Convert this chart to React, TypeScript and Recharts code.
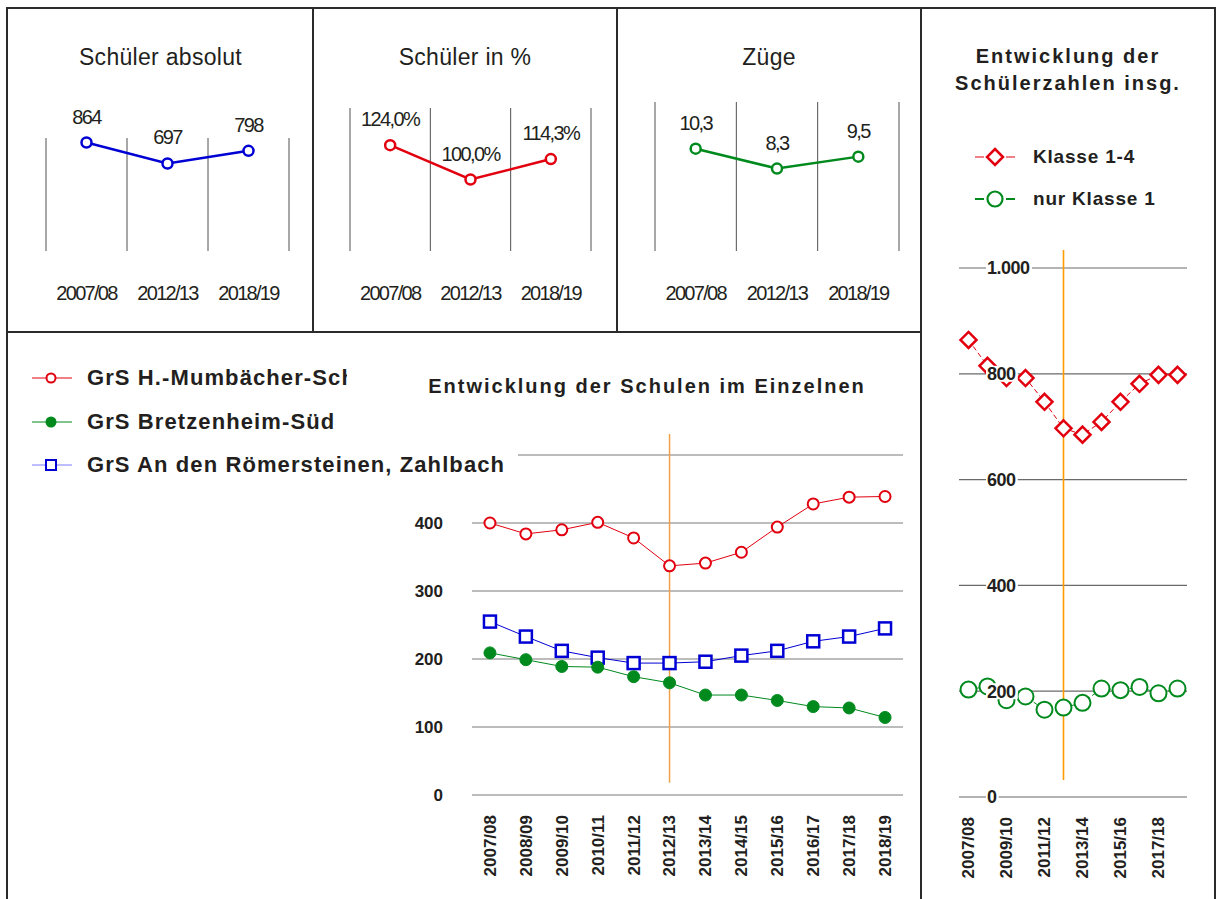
import { LineChart, Line, XAxis, YAxis, CartesianGrid, LabelList, ReferenceLine } from 'recharts';

const FONT = '"Liberation Sans", Arial, Helvetica, sans-serif';
const INK = '#231f20';
const RED = '#e2000f';
const GREEN = '#008a1e';
const BLUE = '#0000d4';
const ORANGE = '#ff9a00';

// overview panels (top row)
const overviewYears = ['2007/08', '2012/13', '2018/19'];
const pupilsAbs = [864, 697, 798];
const pupilsPct = [124.0, 100.0, 114.3];
const streams = [10.3, 8.3, 9.5];

// per-school development
const years = [
  '2007/08', '2008/09', '2009/10', '2010/11', '2011/12', '2012/13',
  '2013/14', '2014/15', '2015/16', '2016/17', '2017/18', '2018/19',
];
const schoolNames = ['GrS H.-Mumbächer-Schule', 'GrS Bretzenheim-Süd', 'GrS An den Römersteinen, Zahlbach'];
const mumbaecher = [400, 384, 390, 401, 378, 337, 341, 357, 394, 428, 438, 439];
const bretzenheim = [209, 199, 189, 188, 174, 165, 147, 147, 139, 130, 128, 114];
const roemersteine = [255, 233, 212, 202, 194, 194, 196, 205, 212, 226, 233, 245];
const schoolTicks = [0, 100, 200, 300, 400, 500];

// total development
const totalNames = ['Klasse 1-4', 'nur Klasse 1'];
const klasse14 = [864, 815, 792, 792, 747, 697, 685, 709, 747, 781, 798, 798];
const klasse1 = [203, 209, 183, 190, 165, 169, 178, 205, 202, 208, 196, 205];
const totalTicks = [0, 200, 400, 600, 800, 1000];

const refYear = '2012/13';

const de1 = (v: number) => v.toFixed(1).replace('.', ',');
const deInt = (v: number) =>
  v >= 1000 ? `${Math.floor(v / 1000)}.${String(v % 1000).padStart(3, '0')}` : String(v);

const schoolRows = years.map((year, i) => ({
  year,
  a: mumbaecher[i],
  b: bretzenheim[i],
  c: roemersteine[i],
}));
const totalRows = years.map((year, i) => ({ year, all: klasse14[i], first: klasse1[i] }));

function Rule({ x, y, w, h }: { x: number; y: number; w: number; h: number }) {
  return <div style={{ position: 'absolute', left: x, top: y, width: w, height: h, background: '#2b2b2b' }} />;
}

function MiniTick({ x, y, payload }: any) {
  return (
    <text x={x} y={y + 42} dy="0.35em" textAnchor="middle" fontSize={20} letterSpacing={-1.7} fill={INK} fontFamily={FONT}>
      {payload.value}
    </text>
  );
}

function MiniPanel({ left, width, margin, values, color, domain, fmt, title }: any) {
  const data = overviewYears.map((year, i) => ({ year, v: values[i] }));
  const plotW = width - margin.left - margin.right;
  return (
    <>
      <div style={{ position: 'absolute', left, top: 43, width, textAlign: 'center', fontSize: 23, letterSpacing: 0.3, lineHeight: '28px', color: INK }}>
        {title}
      </div>
      <div style={{ position: 'absolute', left, top: 90 }}>
        <LineChart width={width} height={230} data={data} margin={margin}>
          <CartesianGrid
            horizontal={false}
            stroke="#505050"
            verticalCoordinatesGenerator={() => [0, 1, 2, 3].map((i) => margin.left + (i * plotW) / 3)}
          />
          <XAxis dataKey="year" scale="band" height={69} axisLine={false} tickLine={false} tickSize={0} tickMargin={0} interval={0} tick={<MiniTick />} />
          <YAxis hide domain={domain} />
          <Line dataKey="v" stroke={color} strokeWidth={2.5} dot={{ r: 5, fill: '#fff', stroke: color, strokeWidth: 2.5 }} isAnimationActive={false}>
            <LabelList dataKey="v" position="top" offset={19} formatter={fmt} fill={INK} fontSize={20} letterSpacing={-1.6} fontFamily={FONT} />
          </Line>
        </LineChart>
      </div>
    </>
  );
}

function RotTick({ x, y, payload }: any) {
  return (
    <g transform={`translate(${x},${y + 20}) rotate(-90)`}>
      <text x={0} y={0} dy="0.35em" textAnchor="end" fontSize={17} fontWeight="bold" fill={INK} fontFamily={FONT}>
        {payload.value}
      </text>
    </g>
  );
}

function SchoolYTick({ x, y, payload }: any) {
  if (payload.value === 500) return null;
  return (
    <text x={x} y={y} dy="0.35em" textAnchor="end" fontSize={17} fontWeight="bold" fill={INK} fontFamily={FONT}>
      {payload.value}
    </text>
  );
}

function TotalYTick({ x, y, payload }: any) {
  const label = deInt(payload.value);
  const w = label.split('').reduce((s, c) => s + (c === '.' ? 4.6 : 9.6), 0);
  return (
    <g>
      <rect x={x + 27} y={y - 8} width={w + 3} height={16} fill="#fff" />
      <text x={x + 28} y={y} dy="0.35em" textAnchor="start" fontSize={18} letterSpacing={-0.5} fontWeight="bold" fill={INK} fontFamily={FONT}>
        {label}
      </text>
    </g>
  );
}

function SquareDot({ cx, cy }: any) {
  return <rect x={cx - 6} y={cy - 6} width={12} height={12} fill="#fff" stroke={BLUE} strokeWidth={2.5} />;
}

function DiamondDot({ cx, cy }: any) {
  return (
    <polygon
      points={`${cx},${cy - 8} ${cx + 8},${cy} ${cx},${cy + 8} ${cx - 8},${cy}`}
      fill="#fff"
      stroke={RED}
      strokeWidth={2.5}
    />
  );
}

function RingDot({ cx, cy }: any) {
  return <circle cx={cx} cy={cy} r={8} fill="#fff" stroke={GREEN} strokeWidth={2} />;
}

function LegendRow({ top, width, marker, label, clip }: any) {
  return (
    <div style={{ position: 'absolute', left: 30, top: top - 13, width, height: 26, background: '#fff', display: 'flex', alignItems: 'center' }}>
      <svg width={44} height={26}>{marker}</svg>
      <span
        style={{
          marginLeft: 13,
          fontSize: 22,
          fontWeight: 'bold',
          letterSpacing: 1.1,
          color: INK,
          whiteSpace: 'nowrap',
          overflow: 'hidden',
          width: clip,
          display: 'inline-block',
        }}
      >
        {label}
      </span>
    </div>
  );
}

export default function App() {
  return (
    <div style={{ position: 'absolute', left: 0, top: 0, width: 1216, height: 899, overflow: 'hidden', background: '#fff', fontFamily: FONT }}>
      {/* frames */}
      <Rule x={6} y={7} w={1210} h={2} />
      <Rule x={6} y={7} w={2} h={892} />
      <Rule x={312} y={7} w={2} h={326} />
      <Rule x={616} y={7} w={2} h={326} />
      <Rule x={920} y={7} w={2} h={892} />
      <Rule x={1214} y={7} w={2} h={892} />
      <Rule x={6} y={331} w={916} h={2} />

      <MiniPanel left={8} width={305} margin={{ top: 48, right: 24, bottom: 0, left: 38 }} values={pupilsAbs} color={BLUE} domain={[0, 900]} fmt={(v: number) => String(v)} title="Schüler absolut" />
      <MiniPanel left={313} width={304} margin={{ top: 18, right: 26, bottom: 0, left: 37 }} values={pupilsPct} color={RED} domain={[50, 150]} fmt={(v: number) => `${de1(v)}%`} title="Schüler in %" />
      <MiniPanel left={617} width={304} margin={{ top: 12, right: 22, bottom: 0, left: 38 }} values={streams} color={GREEN} domain={[0, 15]} fmt={(v: number) => de1(v)} title="Züge" />

      {/* schools in detail */}
      <div style={{ position: 'absolute', left: 400, top: 420 }}>
        <LineChart width={515} height={479} data={schoolRows} margin={{ top: 35, right: 12, bottom: 0, left: 0 }}>
          <CartesianGrid vertical={false} stroke="#7a7a7a" strokeWidth={1.2} />
          <XAxis dataKey="year" scale="band" axisLine={false} tickLine={false} tickSize={0} tickMargin={0} interval={0} height={104} tick={<RotTick />} />
          <YAxis domain={[0, 500]} ticks={schoolTicks} width={72} axisLine={false} tickLine={false} tickSize={0} tickMargin={29} tick={<SchoolYTick />} />
          <ReferenceLine segment={[{ x: refYear, y: 18 }, { x: refYear, y: 531 }]} stroke="#f3a04a" strokeWidth={1.5} strokeOpacity={1} ifOverflow="visible" />
          <Line dataKey="a" name={schoolNames[0]} stroke={RED} strokeWidth={1} dot={{ r: 5.5, fill: '#fff', stroke: RED, strokeWidth: 2 }} isAnimationActive={false} />
          <Line dataKey="c" name={schoolNames[2]} stroke={BLUE} strokeWidth={1} dot={<SquareDot />} isAnimationActive={false} />
          <Line dataKey="b" name={schoolNames[1]} stroke={GREEN} strokeWidth={1} dot={{ r: 6, fill: GREEN, stroke: GREEN, strokeWidth: 1 }} isAnimationActive={false} />
        </LineChart>
      </div>

      <div style={{ position: 'absolute', left: 400, top: 374, width: 494, textAlign: 'center', fontSize: 20, fontWeight: 'bold', letterSpacing: 2, color: INK, lineHeight: '24px' }}>
        Entwicklung der Schulen im Einzelnen
      </div>

      <LegendRow
        top={378}
        width={318}
        clip={260}
        label={schoolNames[0]}
        marker={
          <>
            <line x1={2} x2={42} y1={13} y2={13} stroke={RED} strokeWidth={1} />
            <circle cx={21} cy={13} r={4.5} fill="#fff" stroke={RED} strokeWidth={2} />
          </>
        }
      />
      <LegendRow
        top={422}
        width={420}
        label={schoolNames[1]}
        marker={
          <>
            <line x1={2} x2={42} y1={13} y2={13} stroke={GREEN} strokeWidth={1} />
            <circle cx={21} cy={13} r={5.5} fill={GREEN} />
          </>
        }
      />
      <LegendRow
        top={465}
        width={488}
        label={schoolNames[2]}
        marker={
          <>
            <line x1={2} x2={42} y1={13} y2={13} stroke="#7a7aff" strokeWidth={1} />
            <rect x={16} y={8} width={10} height={10} fill="#fff" stroke={BLUE} strokeWidth={2} />
          </>
        }
      />

      {/* total development */}
      <div style={{ position: 'absolute', left: 922, top: 43, width: 292, textAlign: 'center', fontSize: 20, fontWeight: 'bold', letterSpacing: 2, lineHeight: '27px', color: INK }}>
        Entwicklung der
        <br />
        Schülerzahlen insg.
      </div>
      {[0, 1].map((i) => (
        <div key={i} style={{ position: 'absolute', left: 972, top: (i === 0 ? 157 : 199) - 13, height: 26, display: 'flex', alignItems: 'center' }}>
          <svg width={46} height={26}>
            <line x1={3} x2={43} y1={13} y2={13} stroke={i === 0 ? RED : GREEN} strokeWidth={i === 0 ? 1 : 2} strokeDasharray="9 22" />
            {i === 0 ? (
              <polygon points="23,5 31,13 23,21 15,13" fill="#fff" stroke={RED} strokeWidth={2.5} />
            ) : (
              <circle cx={23} cy={13} r={7.5} fill="#fff" stroke={GREEN} strokeWidth={2.2} />
            )}
          </svg>
          <span style={{ marginLeft: 15, fontSize: 19, fontWeight: 'bold', letterSpacing: 0.8, color: INK }}>{totalNames[i]}</span>
        </div>
      ))}

      <div style={{ position: 'absolute', left: 925, top: 240 }}>
        <LineChart width={288} height={655} data={totalRows} margin={{ top: 28, right: 26, bottom: 0, left: 33 }}>
          <CartesianGrid vertical={false} stroke="#6a6a6a" strokeWidth={1.2} />
          <XAxis dataKey="year" scale="band" axisLine={false} tickLine={false} tickSize={0} tickMargin={0} interval={1} height={98} tick={<RotTick />} />
          <YAxis domain={[0, 1000]} ticks={totalTicks} width={1} axisLine={false} tickLine={false} tickSize={0} tickMargin={0} tick={<TotalYTick />} interval={0} />
          <ReferenceLine segment={[{ x: refYear, y: 32 }, { x: refYear, y: 1034 }]} stroke={ORANGE} strokeWidth={1.6} strokeOpacity={1} ifOverflow="visible" />
          <Line dataKey="all" name={totalNames[0]} stroke={RED} strokeWidth={1} strokeDasharray="5 3" dot={<DiamondDot />} isAnimationActive={false} />
          <Line dataKey="first" name={totalNames[1]} stroke={GREEN} strokeWidth={1} strokeDasharray="5 3" dot={<RingDot />} isAnimationActive={false} />
        </LineChart>
      </div>
    </div>
  );
}
